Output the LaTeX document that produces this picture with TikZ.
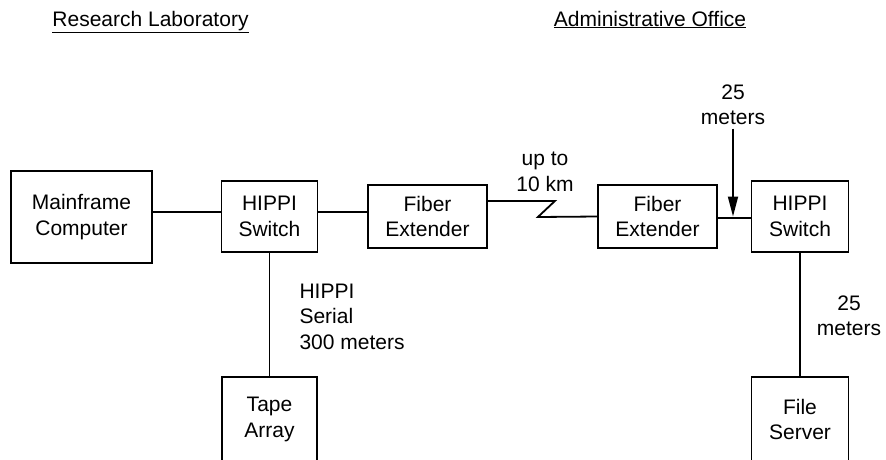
\documentclass[tikz,border=0pt]{standalone}
\usepackage{fontspec}
\setmainfont{Liberation Sans}
\usetikzlibrary{arrows.meta}

\begin{document}
\begin{tikzpicture}[
    x=1pt, y=-1pt,
    every node/.style={font=\fontsize{21}{25.5}\selectfont},
    box/.style={draw, line width=1.8pt, align=center, inner sep=0pt},
    link/.style={line width=1.8pt},
    arrow/.style={-{Triangle[length=20pt, width=10pt]}, line width=1.8pt},
    label/.style={align=center},
    title/.style={anchor=base}
]
\clip (0,0) rectangle (886,459);

% --- site headings ---
\node[title] (lab) at (150.5,26) {\underline{Research Laboratory}};
\node[title] (office) at (650,26) {\underline{Administrative Office}};

% --- equipment ---
\node[box, minimum width=141pt, minimum height=92pt] (main) at (81.5,217) {Mainframe\\Computer};
\node[box, minimum width=96pt, minimum height=71pt] (swL) at (269.5,216.5) {HIPPI\\Switch};
\node[box, minimum width=119pt, minimum height=63pt] (fxL) at (427.5,216.5) {Fiber\\Extender};
\node[box, minimum width=119pt, minimum height=63pt] (fxR) at (657.5,216.5) {Fiber\\Extender};
\node[box, minimum width=97pt, minimum height=71pt] (swR) at (800,216.5) {HIPPI\\Switch};
\node[box, minimum width=95pt, minimum height=85pt] (tape) at (269.5,419.5) {Tape\\Array};
\node[box, minimum width=97pt, minimum height=85pt] (file) at (800,419.5) {File\\Server};

% --- links ---
\draw[link] ([yshift=4.5pt]swL.west -| main.east) -- ([yshift=4.5pt]swL.west);
\draw[link] ([yshift=4.5pt]swL.east) -- ([yshift=4.5pt]swL.east -| fxL.west);
\draw[link] ([yshift=15.5pt]fxL.east) -- ++(67,0) -- ++(-17,16) -- (fxR.west);
\draw[link] ([yshift=-1.5pt]fxR.east) -- ([yshift=-1.5pt]fxR.east -| swR.west);
\draw[link] (swL) -- (tape);
\draw[link] (swR) -- (file);

% --- distances ---
\node[label] (dist) at (545,172) {up to\\10 km};
\node[label, align=left, anchor=west] (serial) at (296,316.5) {HIPPI\\Serial\\300 meters};
\node[label] (len25a) at (733,105) {25\\meters};
\node[label] (len25b) at (849,316) {25\\meters};

\draw[arrow] (len25a) -- (len25a |- fxR.east);

\end{tikzpicture}
\end{document}
